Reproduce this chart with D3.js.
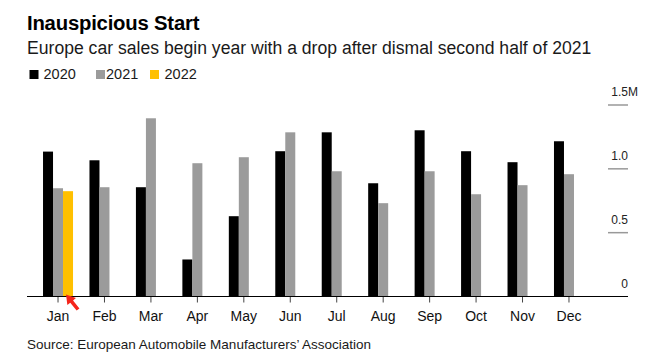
<!DOCTYPE html>
<html>
<head>
<meta charset="utf-8">
<script src="https://cdn.jsdelivr.net/npm/d3@7"></script>
<style>
  html, body { margin: 0; padding: 0; background: #fff; }
  svg { display: block; font-family: "Liberation Sans", Arial, Helvetica, sans-serif; }
</style>
</head>
<body>
<svg id="chart" width="663" height="357"></svg>
<script>
// ---- Data (millions of cars) ----
const months = ["Jan","Feb","Mar","Apr","May","Jun","Jul","Aug","Sep","Oct","Nov","Dec"];
const years = ["2020","2021","2022"];
const sales2020 = [1.135, 1.067, 0.856, 0.290, 0.629, 1.138, 1.286, 0.887, 1.302, 1.138, 1.052, 1.216];
const sales2021 = [0.848, 0.856, 1.396, 1.044, 1.091, 1.286, 0.981, 0.731, 0.981, 0.801, 0.872, 0.958];
const sales2022 = [0.825];
const yTicks = [0, 0.5, 1.0, 1.5];
const yTickLabels = ["0", "0.5", "1.0", "1.5"];
const colors = { "2020": "#000000", "2021": "#9b9b9b", "2022": "#ffc000" };

const title = "Inauspicious Start";
const subtitle = "Europe car sales begin year with a drop after dismal second half of 2021";
const source = "Source: European Automobile Manufacturers\u2019 Association";

const seriesByYear = { "2020": sales2020, "2021": sales2021, "2022": sales2022 };
const rows = [];
years.forEach(yr => {
  seriesByYear[yr].forEach((v, i) => rows.push({ year: yr, month: months[i], value: v }));
});

// ---- Layout ----
const svg = d3.select("#chart");
const axisLeft = 27, axisRight = 628;

const x0 = d3.scaleBand().domain(months).range([34.8, 592.2]).paddingInner(0).paddingOuter(0);
const x1 = d3.scaleBand().domain(years).range([-15, 15]).padding(0);
const y = d3.scaleLinear().domain([0, 1.5]).range([296.5, 105]);

// Title / subtitle
svg.append("text").attr("x", 27).attr("y", 30)
  .attr("font-size", 20.3).attr("font-weight", "bold").attr("fill", "#000")
  .attr("letter-spacing", -0.2).text(title);
svg.append("text").attr("x", 27).attr("y", 54)
  .attr("font-size", 17.6).attr("fill", "#1a1a1a").text(subtitle);

// Legend
const legendPos = [{ sq: 29.5, tx: 43.5 }, { sq: 96, tx: 106 }, { sq: 150, tx: 164.5 }];
const legend = svg.append("g");
years.forEach((yr, i) => {
  legend.append("rect").attr("x", legendPos[i].sq).attr("y", 70)
    .attr("width", 9).attr("height", 9).attr("fill", colors[yr]);
  legend.append("text").attr("x", legendPos[i].tx).attr("y", 79)
    .attr("font-size", 14.5).attr("fill", "#1a1a1a").text(yr);
});

// Right-side gridline ticks and labels
const grid = svg.append("g");
yTicks.forEach((t, i) => {
  if (t > 0) {
    grid.append("line").attr("x1", 608).attr("x2", 628)
      .attr("y1", y(t)).attr("y2", y(t))
      .attr("stroke", "#999").attr("stroke-width", 1.5);
  }
  const lbl = grid.append("text").attr("y", y(t) - 9)
    .attr("font-size", 12).attr("fill", "#222").text(yTickLabels[i]);
  const w = lbl.node().getComputedTextLength();
  lbl.attr("x", 628 - w);
  if (i === yTicks.length - 1) lbl.append("tspan").text("M");
});

// Bars
svg.append("g").selectAll("rect").data(rows).join("rect")
  .attr("x", d => x0(d.month) + x0.bandwidth() / 2 + x1(d.year))
  .attr("width", x1.bandwidth())
  .attr("y", d => y(d.value))
  .attr("height", d => y(0) - y(d.value))
  .attr("fill", d => colors[d.year]);

// X axis
const xAxis = svg.append("g").attr("transform", `translate(0,${y(0)})`)
  .call(d3.axisBottom(x0).tickSize(6).tickPadding(9).tickSizeOuter(0));
xAxis.select(".domain").remove();
xAxis.selectAll(".tick line").attr("stroke", "#444");
xAxis.selectAll(".tick text").attr("font-size", 14).attr("fill", "#111")
  .attr("font-family", "\"Liberation Sans\", Arial, sans-serif");
svg.append("line").attr("x1", axisLeft).attr("x2", axisRight)
  .attr("y1", y(0)).attr("y2", y(0)).attr("stroke", "#000").attr("stroke-width", 1);

// Red arrow pointing at Jan 2022 bar
const tipX = x0("Jan") + x0.bandwidth() / 2 + x1("2022") + x1.bandwidth() / 2 - 2;
const tipY = y(0) - 2;
const tailX = tipX + 12, tailY = tipY + 15;
const dx = tipX - tailX, dy = tipY - tailY, len = Math.hypot(dx, dy);
const ux = dx / len, uy = dy / len, px = -uy, py = ux;
const headLen = 9, headW = 5.5, shaftW = 1.8;
const bx = tipX - ux * headLen, by = tipY - uy * headLen;
const pts = [
  [tipX, tipY],
  [bx + px * headW, by + py * headW],
  [bx + px * shaftW, by + py * shaftW],
  [tailX + px * shaftW, tailY + py * shaftW],
  [tailX - px * shaftW, tailY - py * shaftW],
  [bx - px * shaftW, by - py * shaftW],
  [bx - px * headW, by - py * headW]
];
svg.append("path").attr("d", d3.line()(pts) + "Z").attr("fill", "#f5241a");

// Source
svg.append("text").attr("x", 27).attr("y", 349)
  .attr("font-size", 13.5).attr("fill", "#1a1a1a").text(source);
</script>
</body>
</html>
